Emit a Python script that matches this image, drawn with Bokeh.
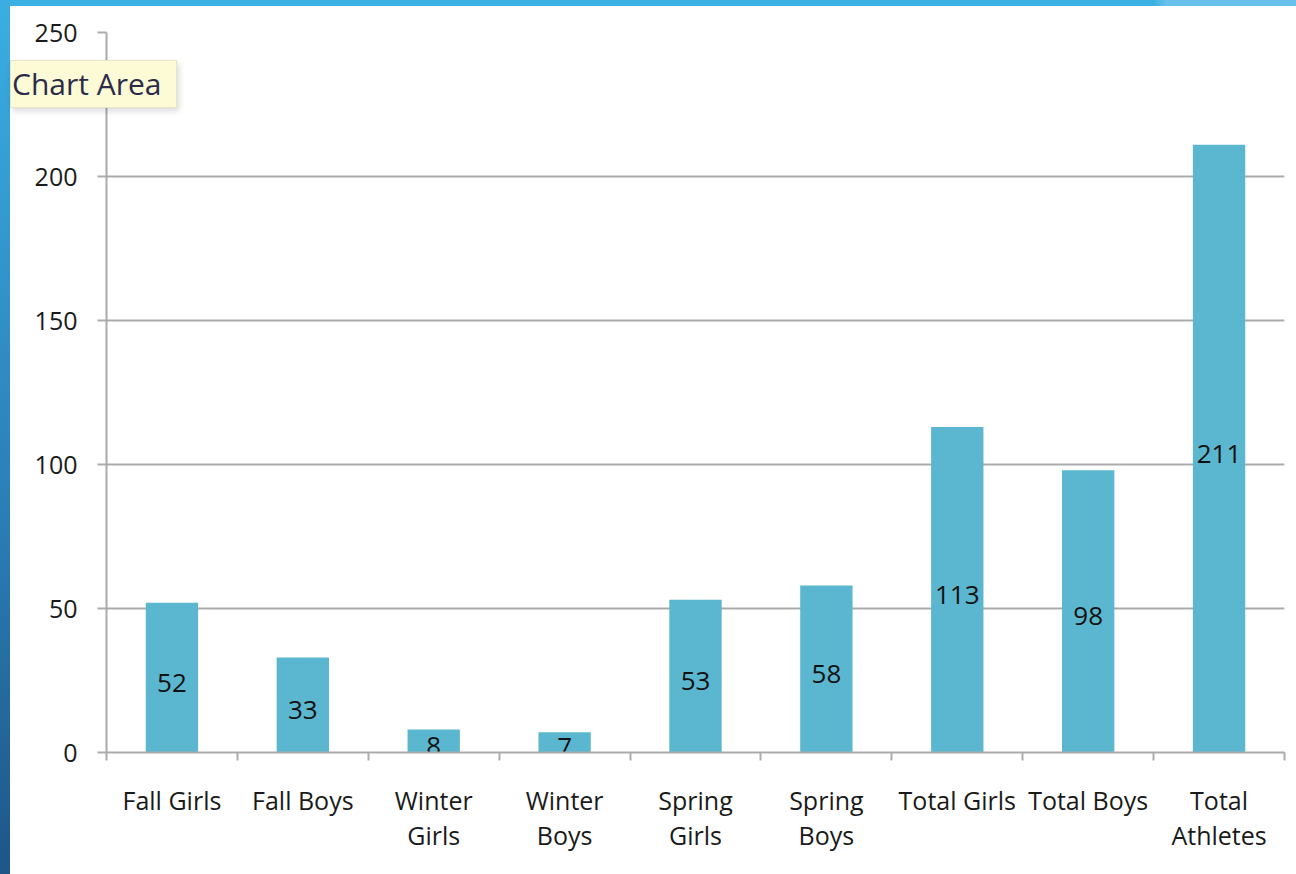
from bokeh.plotting import figure
from bokeh.models import ColumnDataSource, FixedTicker, Div
from bokeh.layouts import column
from bokeh.embed import file_html
from bokeh.resources import INLINE
from bokeh.core.properties import value

categories = ["Fall Girls", "Fall Boys", "Winter\nGirls", "Winter\nBoys",
              "Spring\nGirls", "Spring\nBoys", "Total Girls", "Total Boys",
              "Total\nAthletes"]
athletes = [52, 33, 8, 7, 53, 58, 113, 98, 211]
y_ticks = [0, 50, 100, 150, 200, 250]

FONT = "Open Sans"
BAR_COLOR = "#5BB7D0"
GRID = "#ABABAB"

n = len(categories)
centers = [i + 0.5 for i in range(n)]
bounds = [float(i) for i in range(n + 1)]

src = ColumnDataSource(dict(
    x=centers,
    top=athletes,
    mid=[v / 2 for v in athletes],
    lab=[str(v) for v in athletes],
))

bg = ("linear-gradient(to bottom, #3AAEE2, #2A7DB5 60%, #1E5688) left top / 10px 100% no-repeat, "
      "linear-gradient(to right, #3BB0E3 89%, #67C1EB 90%) left top / 100% 6px no-repeat, "
      "white")

p = figure(width=1296, height=874, x_range=(0, n), y_range=(0, 250),
           output_backend="svg", toolbar_location=None,
           min_border_left=106, min_border_right=12,
           min_border_top=32, min_border_bottom=122,
           styles={"background": bg}, margin=(0, 0, 0, 0))
p.outline_line_color = None
p.background_fill_color = "white"
p.border_fill_alpha = 0.0

p.vbar(x="x", top="top", width=0.4, bottom=0, source=src,
       fill_color=BAR_COLOR, line_color=None)
p.text(x="x", y="mid", text="lab", source=src, text_align="center",
       text_baseline="middle", y_offset=5, text_font=value(FONT),
       text_font_size="26px", text_color="#111111")

# x axis: labels at centres, tick marks at category boundaries
xa = p.xaxis[0]
xa.ticker = FixedTicker(ticks=centers, minor_ticks=bounds)
xa.major_label_overrides = {c: lab for c, lab in zip(centers, categories)}
xa.major_tick_out = 0
xa.major_tick_in = 0
xa.minor_tick_out = 8
xa.minor_tick_in = 0
xa.minor_tick_line_color = GRID
xa.minor_tick_line_width = 2
xa.axis_line_color = GRID
xa.axis_line_width = 2
xa.major_label_text_font = FONT
xa.major_label_text_font_size = "25px"
xa.major_label_text_color = "#1a1a1a"
xa.major_label_text_line_height = 1.05
xa.major_label_standoff = 22

ya = p.yaxis[0]
ya.ticker = FixedTicker(ticks=y_ticks)
ya.major_tick_out = 9
ya.major_tick_in = 0
ya.minor_tick_out = 0
ya.minor_tick_in = 0
ya.major_tick_line_color = GRID
ya.major_tick_line_width = 2
ya.axis_line_color = GRID
ya.axis_line_width = 2
ya.major_label_text_font = FONT
ya.major_label_text_font_size = "25px"
ya.major_label_text_color = "#1a1a1a"
ya.major_label_standoff = 20

p.xgrid.grid_line_color = None
p.ygrid.ticker = FixedTicker(ticks=y_ticks)
p.ygrid.grid_line_color = GRID
p.ygrid.grid_line_width = 2

tip = Div(text="Chart Area", width=167, height=48, margin=(0, 0, 0, 0),
          styles={"position": "absolute", "left": "10px", "top": "60px",
                  "font-family": "Open Sans", "font-size": "30px",
                  "color": "#2b2b4a", "background": "#FDFBD6",
                  "border": "1px solid #E9E6C6",
                  "box-shadow": "2px 3px 6px rgba(0,0,0,0.15)",
                  "padding": "2px 0 0 1px", "box-sizing": "border-box",
                  "line-height": "42px", "z-index": "10"})

layout = column(p, tip, spacing=0)

open("out.html", "w").write(file_html(layout, INLINE))
